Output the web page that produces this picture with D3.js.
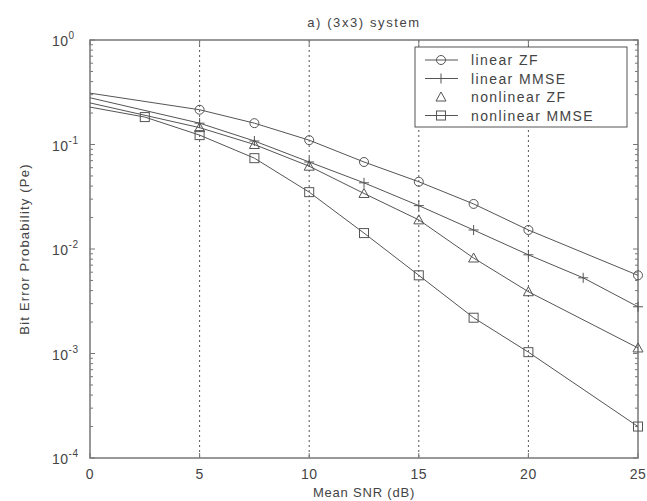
<!DOCTYPE html>
<html>
<head>
<meta charset="utf-8">
<script src="https://cdn.jsdelivr.net/npm/d3@7"></script>
<style>
  body { margin: 0; background: #fff; }
  svg text { font-family: Arial, "Liberation Sans", Helvetica, sans-serif; fill: #444; }
</style>
</head>
<body>
<div id="chart"></div>
<script>
// values (BER vs mean SNR, 3x3 system)
const linZfSnr   = [0, 5, 7.5, 10, 12.5, 15, 17.5, 20, 25];
const linZfBer   = [0.31, 0.215, 0.16, 0.11, 0.068, 0.044, 0.027, 0.0152, 0.0056];

const linMmseSnr = [0, 5, 7.5, 10, 12.5, 15, 17.5, 20, 22.5, 25];
const linMmseBer = [0.28, 0.16, 0.108, 0.068, 0.043, 0.026, 0.0152, 0.0088, 0.0053, 0.0028];

const nlZfSnr    = [0, 5, 7.5, 10, 12.5, 15, 17.5, 20, 25];
const nlZfBer    = [0.25, 0.145, 0.1, 0.062, 0.034, 0.019, 0.0082, 0.0039, 0.00113];

const nlMmseSnr  = [0, 2.5, 5, 7.5, 10, 12.5, 15, 17.5, 20, 25];
const nlMmseBer  = [0.228, 0.183, 0.123, 0.074, 0.035, 0.0142, 0.0056, 0.0022, 0.00103, 0.0002];

const seriesNames = ["linear ZF", "linear MMSE", "nonlinear ZF", "nonlinear MMSE"];
const xTicks = [0, 5, 10, 15, 20, 25];
const yExps  = [0, -1, -2, -3, -4];

const W = 647, H = 501;
const margin = { left: 90, right: 9, top: 40, bottom: 43 };

const svg = d3.select("#chart").append("svg")
  .attr("width", W).attr("height", H);

const x = d3.scaleLinear().domain([0, 25]).range([margin.left, W - margin.right]);
const y = d3.scaleLog().domain([1e-4, 1]).range([H - margin.bottom, margin.top]);

const axisCol = "#777";
const lineCol = "#555";

// vertical dotted grid
svg.append("g").selectAll("line")
  .data(xTicks.slice(1, -1))
  .enter().append("line")
  .attr("x1", d => x(d)).attr("x2", d => x(d))
  .attr("y1", y(1)).attr("y2", y(1e-4))
  .attr("stroke", "#555").attr("stroke-width", 1)
  .attr("stroke-dasharray", "2,3");

// frame with inward ticks
const tickLen = 5;
const minor = [];
for (let e = -4; e < 0; e++) for (let m = 2; m <= 9; m++) minor.push(m * Math.pow(10, e));

function addTicks(g, side) {
  const xp = side === "left" ? x(0) : x(25);
  const dir = side === "left" ? 1 : -1;
  g.selectAll("line.maj-" + side).data(yExps).enter().append("line")
    .attr("x1", xp).attr("x2", xp + dir * tickLen)
    .attr("y1", d => y(Math.pow(10, d))).attr("y2", d => y(Math.pow(10, d)))
    .attr("stroke", axisCol);
  g.selectAll("line.min-" + side).data(minor).enter().append("line")
    .attr("x1", xp).attr("x2", xp + dir * 3)
    .attr("y1", d => y(d)).attr("y2", d => y(d))
    .attr("stroke", axisCol);
}
const frame = svg.append("g");
addTicks(frame, "left");
addTicks(frame, "right");
frame.selectAll("line.xt").data(xTicks).enter().append("line")
  .attr("x1", d => x(d)).attr("x2", d => x(d))
  .attr("y1", y(1e-4)).attr("y2", y(1e-4) - tickLen)
  .attr("stroke", axisCol);
frame.selectAll("line.xt2").data(xTicks).enter().append("line")
  .attr("x1", d => x(d)).attr("x2", d => x(d))
  .attr("y1", y(1)).attr("y2", y(1) + tickLen)
  .attr("stroke", axisCol);
frame.append("rect")
  .attr("x", x(0)).attr("y", y(1))
  .attr("width", x(25) - x(0)).attr("height", y(1e-4) - y(1))
  .attr("fill", "none").attr("stroke", axisCol).attr("stroke-width", 1.5);

// tick labels
svg.append("g").selectAll("text").data(xTicks).enter().append("text")
  .attr("x", d => x(d)).attr("y", y(1e-4) + 21)
  .attr("text-anchor", "middle").attr("font-size", 14).attr("letter-spacing", 0.5)
  .text(d => d);

const yl = svg.append("g").selectAll("text").data(yExps).enter().append("text")
  .attr("x", x(0) - 38).attr("y", d => y(Math.pow(10, d)) + 6)
  .attr("font-size", 14).attr("letter-spacing", 0.5);
yl.append("tspan").text("10");
yl.append("tspan").attr("dy", -7).attr("font-size", 10).text(d => d);

// titles
svg.append("text").attr("x", (x(0) + x(25)) / 2).attr("y", 27)
  .attr("text-anchor", "middle").attr("font-size", 13).attr("letter-spacing", 1.6)
  .text("a) (3x3) system");
svg.append("text").attr("x", (x(0) + x(25)) / 2).attr("y", 497)
  .attr("text-anchor", "middle").attr("font-size", 13).attr("letter-spacing", 0.8)
  .text("Mean SNR (dB)");
svg.append("text")
  .attr("transform", `translate(29,${(y(1) + y(1e-4)) / 2}) rotate(-90)`)
  .attr("text-anchor", "middle").attr("font-size", 13).attr("letter-spacing", 1.2)
  .text("Bit Error Probability (Pe)");

// series
const series = [
  { name: seriesNames[0], pts: linZfSnr.map((s, i) => ({ x: s, y: linZfBer[i] })), mark: "circle" },
  { name: seriesNames[1], pts: linMmseSnr.map((s, i) => ({ x: s, y: linMmseBer[i] })), mark: "plus" },
  { name: seriesNames[2], pts: nlZfSnr.map((s, i) => ({ x: s, y: nlZfBer[i] })), mark: "triangle" },
  { name: seriesNames[3], pts: nlMmseSnr.map((s, i) => ({ x: s, y: nlMmseBer[i] })), mark: "square" }
];

const line = d3.line().x(d => x(d.x)).y(d => y(d.y));

function drawMark(g, type, cx, cy) {
  const s = g.append("g").attr("transform", `translate(${cx},${cy})`)
    .attr("fill", "none").attr("stroke", lineCol).attr("stroke-width", 1);
  if (type === "circle") s.append("circle").attr("r", 4.5);
  else if (type === "square") s.append("rect").attr("x", -4.5).attr("y", -4.5).attr("width", 9).attr("height", 9);
  else if (type === "triangle") s.append("path").attr("d", "M0,-5L5,4L-5,4Z");
  else if (type === "plus") s.append("path").attr("d", "M-5,0H5M0,-5V5");
}

const plotG = svg.append("g");
series.forEach(sr => {
  plotG.append("path").datum(sr.pts)
    .attr("d", line).attr("fill", "none")
    .attr("stroke", lineCol).attr("stroke-width", 1);
  sr.pts.filter(p => p.x > 0).forEach(p => drawMark(plotG, sr.mark, x(p.x), y(p.y)));
});

// legend
const lg = svg.append("g");
lg.append("rect").attr("x", 415).attr("y", 47).attr("width", 212).attr("height", 80)
  .attr("fill", "#fff").attr("stroke", "#555");
series.forEach((sr, i) => {
  const ly = 60 + i * 18.5;
  if (sr.mark !== "triangle") {
    lg.append("line").attr("x1", 425).attr("x2", 458).attr("y1", ly).attr("y2", ly)
      .attr("stroke", lineCol);
  }
  drawMark(lg, sr.mark, 441, ly);
  lg.append("text").attr("x", 471).attr("y", ly + 5).attr("font-size", 14)
    .attr("letter-spacing", 1.4).text(sr.name);
});
</script>
</body>
</html>
